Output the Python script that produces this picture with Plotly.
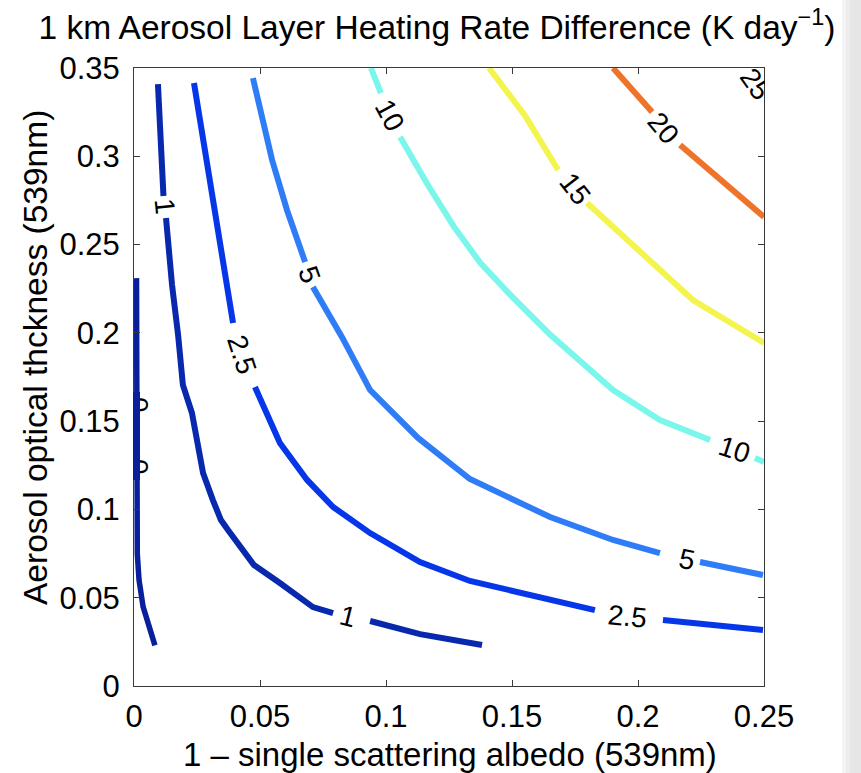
import plotly.graph_objects as go

# Axes
X_RANGE = [0, 0.25]
Y_RANGE = [0, 0.35]
X_TICKS = [0, 0.05, 0.1, 0.15, 0.2, 0.25]
X_TICK_TEXT = ["0", "0.05", "0.1", "0.15", "0.2", "0.25"]
Y_TICKS = [0, 0.05, 0.1, 0.15, 0.2, 0.25, 0.3, 0.35]
Y_TICK_TEXT = ["0", "0.05", "0.1", "0.15", "0.2", "0.25", "0.3", "0.35"]

# Contour levels (K/day) and their jet-style colours
LEVELS = [0, 1, 2.5, 5, 10, 15, 20, 25]
LEVEL_COLORS = ["#0a1f9c", "#0828ae", "#0537e8", "#2f7df6",
                "#7af7ea", "#f3f54e", "#ef742b", "#9a1010"]

# Contour paths (x = 1 - SSA, y = AOD); None marks the gap left for a label
X_0 = [0.0010, 0.0010, 0.0011, 0.0013, 0.0020, 0.0036, 0.0083]
Y_0 = [0.231, 0.162, 0.105, 0.075, 0.060, 0.045, 0.023]

X_1 = [0.0095, 0.0107, 0.0117, None, 0.0127, 0.0151, 0.0175, 0.0194, 0.0230,
       0.0274, 0.0313, 0.0345, 0.0373, 0.0476, 0.0579, 0.0710, 0.0790, None,
       0.0937, 0.1135, 0.1381]
Y_1 = [0.3409, 0.3092, 0.2775, None, 0.2650, 0.2271, 0.1988, 0.1705, 0.1546,
       0.1206, 0.1053, 0.0940, 0.0883, 0.0685, 0.0583, 0.0447, 0.0413, None,
       0.0368, 0.0294, 0.0232]

X_2_5 = [0.0238, 0.0282, 0.0337, 0.0393, None, 0.0480, 0.0579, 0.0687, 0.0790,
         0.0937, 0.1135, 0.1333, 0.1651, 0.1829, None, 0.2099, 0.2496]
Y_2_5 = [0.3415, 0.3036, 0.2583, 0.2056, None, 0.1693, 0.1376, 0.1167, 0.1014,
         0.0866, 0.0702, 0.0595, 0.0487, 0.0430, None, 0.0374, 0.0317]

X_5 = [0.0472, 0.0548, 0.0607, 0.0679, None, 0.0710, 0.0825, 0.0937, 0.1127,
       0.1333, 0.1651, 0.1901, 0.2087, None, 0.2246, 0.2496]
Y_5 = [0.3443, 0.2979, 0.2696, 0.2401, None, 0.2260, 0.1977, 0.1676, 0.1405,
       0.1172, 0.0957, 0.0827, 0.0753, None, 0.0702, 0.0629]

X_10 = [0.0940, 0.0980, None, 0.1056, 0.1165, 0.1270, 0.1375, 0.1500, 0.1651,
        0.1901, 0.2087, 0.2286, None, 0.2464, 0.2500]
Y_10 = [0.3500, 0.3358, None, 0.3109, 0.2840, 0.2600, 0.2395, 0.2205, 0.1990,
        0.1676, 0.1506, 0.1393, None, 0.1291, 0.1269]

X_15 = [0.1409, 0.1480, 0.1552, 0.1683, None, 0.1798, 0.1921, 0.2048, 0.2218,
        0.2500]
Y_15 = [0.3500, 0.3370, 0.3230, 0.2922, None, 0.2735, 0.2571, 0.2413, 0.2186,
        0.1943]

X_20 = [0.1901, 0.1980, 0.2056, None, 0.2167, 0.2333, 0.2500]
Y_20 = [0.3500, 0.3375, 0.3251, None, 0.3064, 0.2866, 0.2656]

# the 25 line only clips the corner and lies entirely under its label
X_25 = [0.2445, None, 0.2500]
Y_25 = [0.3500, None, 0.3380]

PATHS_X = [X_0, X_1, X_2_5, X_5, X_10, X_15, X_20, X_25]
PATHS_Y = [Y_0, Y_1, Y_2_5, Y_5, Y_10, Y_15, Y_20, Y_25]

# Inline contour labels
LABEL_LEVEL = [0, 0, 1, 1, 2.5, 2.5, 5, 5, 10, 10, 15, 20, 25]
LABEL_X = [0.0020, 0.0020, 0.0121, 0.0849, 0.0429, 0.1958, 0.0694, 0.2194,
           0.1012, 0.2381, 0.1750, 0.2103, 0.2468]
LABEL_Y = [0.1591, 0.1240, 0.2713, 0.0391, 0.1880, 0.0396, 0.2328, 0.0714,
           0.3234, 0.1342, 0.2820, 0.3160, 0.3409]
LABEL_ANGLE = [90, 90, 84, 14, 72, 6, 70, 11, 62, 18, 52, 50, 55]

FONT = "Liberation Sans, Arial, Helvetica, sans-serif"
W, H = 861, 773
ML, MR, MT, MB = 134, 97, 68, 87
PW, PH = W - ML - MR, H - MT - MB


def px_to_paper(px, py):
    return (px - ML) / PW, (H - MB - py) / PH


fig = go.Figure()

for lvl, xs, ys, col in zip(LEVELS, PATHS_X, PATHS_Y, LEVEL_COLORS):
    fig.add_trace(go.Scatter(
        x=xs, y=ys, mode="lines", name=f"{lvl:g}",
        line=dict(color=col, width=6 if lvl else 5.5),
        connectgaps=False, hoverinfo="skip", showlegend=False,
    ))

annotations = []
for lvl, lx, ly, ang in zip(LABEL_LEVEL, LABEL_X, LABEL_Y, LABEL_ANGLE):
    annotations.append(dict(
        x=lx, y=ly, xref="x", yref="y", text=f"{lvl:g}", showarrow=False,
        textangle=ang, font=dict(family=FONT, size=28, color="black"),
        xanchor="center", yanchor="middle",
    ))


def mask(px0, px1, py0, py1, color="white"):
    x1p, y0p = px_to_paper(px1, py1)
    x0p, y1p = px_to_paper(px0, py0)
    return dict(
        x=x1p, y=(y0p + y1p) / 2, xref="paper", yref="paper", text=" ",
        showarrow=False, xanchor="right", yanchor="middle",
        width=px1 - px0, height=py1 - py0, bgcolor=color,
        borderpad=0, borderwidth=0, font=dict(size=4),
    )


# trim the labels that overhang the axes box
annotations.append(mask(125, 133, 392, 480))
annotations.append(mask(133, 139.5, 392, 480, LEVEL_COLORS[0]))
annotations.append(mask(765.5, 795, 50, 112))
annotations.append(mask(722, 795, 46, 66.5))

# axis titles
xt, yt = px_to_paper(450, 754)
annotations.append(dict(
    x=xt, y=yt, xref="paper", yref="paper", showarrow=False,
    text="1 \u2013 single scattering albedo (539nm)",
    font=dict(family=FONT, size=33, color="black"),
    xanchor="center", yanchor="middle",
))
xt, yt = px_to_paper(35, 358)
annotations.append(dict(
    x=xt, y=yt, xref="paper", yref="paper", showarrow=False,
    text="Aerosol optical thckness (539nm)", textangle=-90,
    font=dict(family=FONT, size=33.5, color="black"),
    xanchor="center", yanchor="middle",
))

# soft grey edge at the right of the page
shapes = []
for px0, px1, col in [(842, 846, "#f4f4f4"), (846, 850, "#ececec"), (850, 862, "#e6e6e6")]:
    x0p, _ = px_to_paper(px0, 0)
    x1p, _ = px_to_paper(px1, 0)
    shapes.append(dict(type="rect", xref="paper", yref="paper",
                       x0=x0p, x1=x1p, y0=-0.2, y1=1.2,
                       fillcolor=col, line=dict(width=0), layer="below"))

axis_common = dict(
    showgrid=False, zeroline=False, showline=True, linecolor="#3a3a3a",
    linewidth=1, mirror="ticks", ticks="inside", ticklen=6,
    tickcolor="#3a3a3a", tickfont=dict(family=FONT, size=31, color="black"),
)

fig.update_layout(
    width=W, height=H,
    margin=dict(l=ML, r=MR, t=MT, b=MB),
    paper_bgcolor="white", plot_bgcolor="white",
    title=dict(
        text="1 km Aerosol Layer Heating Rate Difference (K day<sup>\u22121</sup>)",
        x=437 / W, xref="container", xanchor="center",
        y=1 - 27 / H, yref="container", yanchor="middle",
        font=dict(family=FONT, size=33.5, color="black"),
    ),
    xaxis=dict(range=X_RANGE, tickvals=X_TICKS, ticktext=X_TICK_TEXT,
               ticklabelstandoff=3, **axis_common),
    yaxis=dict(range=Y_RANGE, tickvals=Y_TICKS, ticktext=Y_TICK_TEXT,
               ticklabelstandoff=7, **axis_common),
    annotations=annotations,
    shapes=shapes,
)

fig.write_html("out.html")
